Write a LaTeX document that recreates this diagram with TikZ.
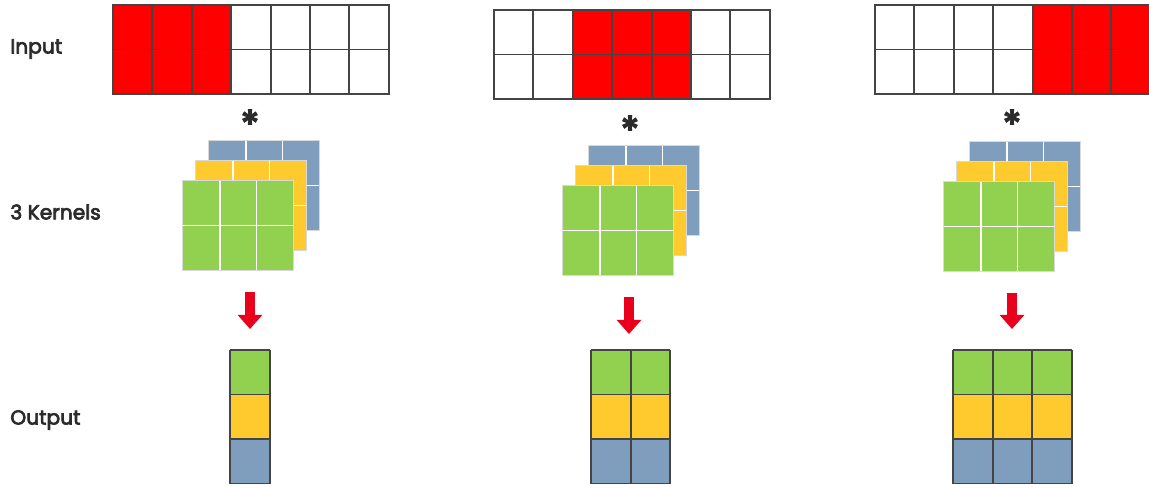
\documentclass[tikz,border=0pt]{standalone}
\usepackage{fontspec}
\setmainfont{Poppins}
\newfontfamily\lblfont{Poppins}[FakeBold=3.5]
\usepackage{tikz}
\usetikzlibrary{arrows.meta,positioning}
\usepackage{xcolor}

\definecolor{inred}{HTML}{FF0000}
\definecolor{kgreen}{HTML}{92D050}
\definecolor{kyellow}{HTML}{FFCA2E}
\definecolor{kblue}{HTML}{7F9DBD}
\definecolor{gridline}{HTML}{444444}
\definecolor{txt}{HTML}{2B2B2B}
\definecolor{arrred}{HTML}{E8001C}

\begin{document}
\begin{tikzpicture}[
    x=0.02cm, y=-0.02cm,
    rowlabel/.style={anchor=west, inner sep=0pt, text=txt, font=\lblfont\fontsize{11.5}{14}\selectfont},
    conv/.style={inner sep=0pt, text=txt, font=\lblfont\fontsize{22}{22}\selectfont},
    incell/.style={draw=gridline, line width=1.1pt},
    kcell/.style={draw=white, line width=1pt},
    kframe/.style={draw=black!15, line width=0.7pt},
    outcell/.style={draw=gridline, line width=1.1pt},
    down/.style={-{Triangle[width=13.6pt, length=8pt]}, line width=5.6pt, draw=arrred}
  ]

  \useasboundingbox (0,0) rectangle (1149,487);
  \clip (0,0) rectangle (1149,487);

  %% Row labels
  \node[rowlabel] (lin)  at (10,49)  {Input};
  \node[rowlabel] (lker) at (10,212) {3 Kernels};
  \node[rowlabel] (lout) at (10,420) {Output};

  %% Input rows, 2x7 cells, 3 red columns sliding
  \foreach \gx/\gy/\rs in {113/5/0, 494/10/2, 875/5/4} {
    \fill[white] (\gx,\gy) rectangle ++(275.8,89);
    \fill[inred] (\gx+39.4*\rs,\gy) rectangle ++(118.2,89);
    \foreach \c in {1,...,6}
      \draw[incell] (\gx+39.4*\c,\gy) -- ++(0,89);
    \draw[incell] (\gx,\gy+44.5) -- ++(275.8,0);
    \draw[incell] (\gx,\gy) rectangle ++(275.8,89);
  }

  %% Convolution signs
  \node[conv] (ast1) at (250,124) {*};
  \node[conv] (ast2) at (630,130) {*};
  \node[conv] (ast3) at (1012,124) {*};

  %% Kernel stacks (blue, yellow, green)
  \foreach \kx/\ky in {183/181, 563/186, 944/182} {
    \foreach \dx/\dy/\col in {26/-40/kblue, 13/-20/kyellow, 0/0/kgreen} {
      \fill[\col] (\kx+\dx,\ky+\dy) rectangle ++(110,89);
      \foreach \c in {1,2}
        \draw[kcell] (\kx+\dx+36.7*\c,\ky+\dy) -- ++(0,89);
      \draw[kcell] (\kx+\dx,\ky+\dy+44.5) -- ++(110,0);
      \draw[kframe] (\kx+\dx-0.8,\ky+\dy-0.8) rectangle ++(111.6,90.6);
    }
  }

  %% Arrows down to the outputs
  \coordinate (a1s) at (250,292);  \coordinate (a1e) at (250,329);
  \coordinate (a2s) at (629,297);  \coordinate (a2e) at (629,334);
  \coordinate (a3s) at (1012,293); \coordinate (a3e) at (1012,329);
  \draw[down] (a1s) -- (a1e);
  \draw[down] (a2s) -- (a2e);
  \draw[down] (a3s) -- (a3e);

  %% Output maps, one row per kernel
  \foreach \ox/\n in {230/1, 591/2, 953/3} {
    \foreach \r/\col in {0/kgreen, 1/kyellow, 2/kblue}
      \fill[\col] (\ox,350+44.5*\r) rectangle ++(39.7*\n,44.5);
    \foreach \c in {0,...,\n}
      \draw[outcell] (\ox+39.7*\c,350) -- ++(0,133.5);
    \foreach \r in {0,...,3}
      \draw[outcell] (\ox,350+44.5*\r) -- ++(39.7*\n,0);
  }

\end{tikzpicture}
\end{document}
